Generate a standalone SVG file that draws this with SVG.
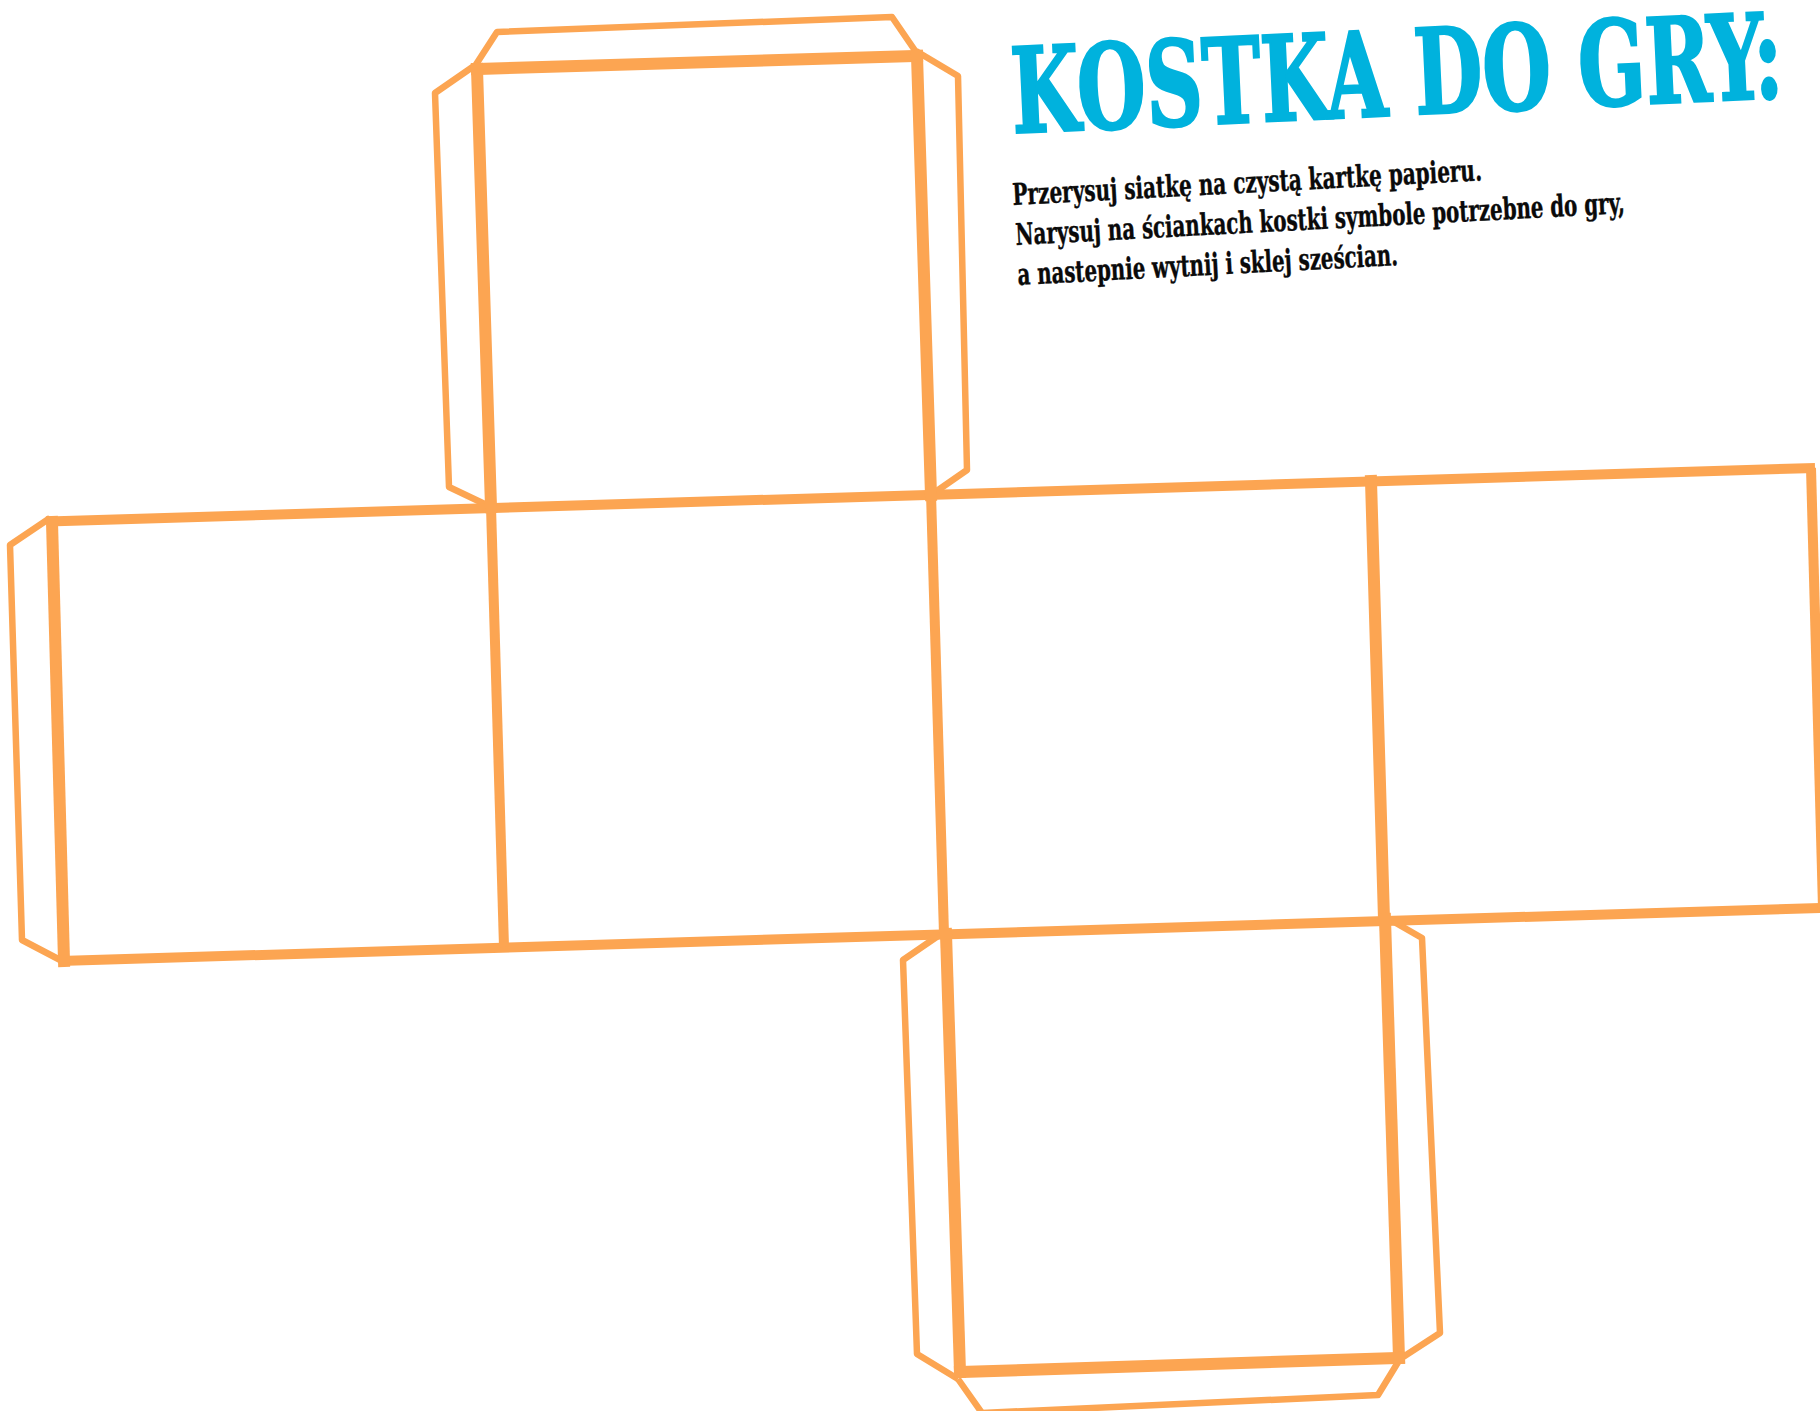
<svg xmlns="http://www.w3.org/2000/svg" width="1820" height="1411" viewBox="0 0 1820 1411">
<style>
.tab{fill:none;stroke:#FCA552;stroke-width:6.5;stroke-linejoin:round}
.b{fill:none;stroke:#FCA552;stroke-width:12;stroke-linecap:square}
.m{fill:none;stroke:#FCA552;stroke-width:10}
.title{font-family:"DejaVu Serif Condensed","DejaVu Serif",serif;font-weight:700;font-size:118px;fill:#00B2DD;stroke:#00B2DD;stroke-width:2.5}
.body{font-family:"DejaVu Serif Condensed","DejaVu Serif",serif;font-weight:700;font-size:30px;fill:#0a0a0a;stroke:#0a0a0a;stroke-width:.4}
</style>
<rect width="1820" height="1411" fill="#fff"/>
<g id="tabs">
<path class="tab" d="M475 66L497 32L892 17L916 52"/>
<path class="tab" d="M474 66L435 93L449 487L491 507"/>
<path class="tab" d="M916 51L958 76L967 470L931 495"/>
<path class="tab" d="M50 518L10 545L22 940L64 962"/>
<path class="tab" d="M938 936L903 960L917 1354L958 1379"/>
<path class="tab" d="M1389 919L1422 938L1440 1333L1400 1359"/>
<path class="tab" d="M958 1379L982 1413L1378 1395L1400 1359"/>
</g>
<g id="grid">
<path class="m" d="M48 521.5L1815 468"/>
<path class="m" d="M60 961L1820 908"/>
<path class="b" style="stroke-width:12" d="M52 522L64 961"/>
<path class="m" d="M491 507L504 947"/>
<path class="m" d="M931 494L944 934"/>
<path class="b" style="stroke-width:12" d="M1371 481L1384 919"/>
<path class="m" d="M1811 468L1823 908"/>
</g>
<g id="top-face">
<path class="b" d="M477 69L917 56"/>
<path class="b" d="M477 69L491 507"/>
<path class="b" d="M917 56L931 495"/>
</g>
<g id="bottom-face">
<path class="b" d="M946 934L960 1372"/>
<path class="b" d="M1385 919L1399 1358"/>
<path class="b" d="M960 1372L1399 1358"/>
</g>
<g id="heading">
<text class="title" transform="translate(1013 133) rotate(-2.65)" textLength="772" lengthAdjust="spacingAndGlyphs">KOSTKA DO GRY:</text>
<text class="body" transform="translate(1013 205) rotate(-3)" textLength="470" lengthAdjust="spacingAndGlyphs">Przerysuj siatkę na czystą kartkę papieru.</text>
<text class="body" transform="translate(1016 245) rotate(-3)" textLength="610" lengthAdjust="spacingAndGlyphs">Narysuj na ściankach kostki symbole potrzebne do gry,</text>
<text class="body" transform="translate(1018 285) rotate(-3)" textLength="381" lengthAdjust="spacingAndGlyphs">a nastepnie wytnij i sklej sześcian.</text>
</g>
</svg>
